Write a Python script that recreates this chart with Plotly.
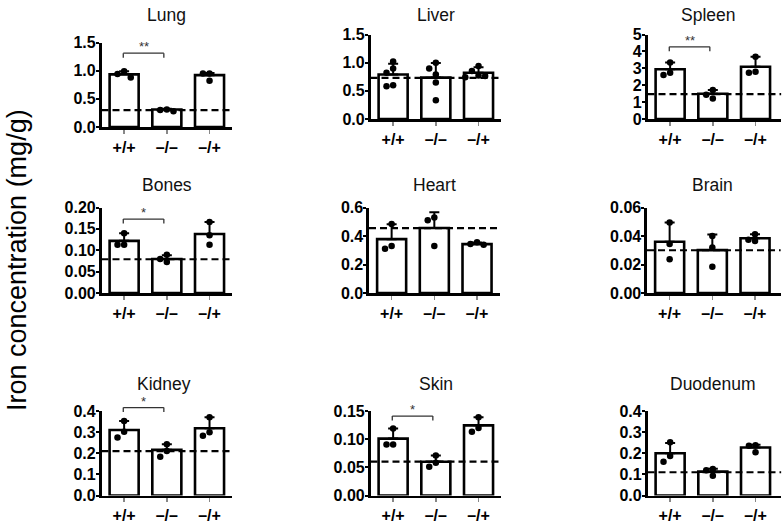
import plotly.graph_objects as go

W, H = 784, 524
GROUPS = ["+/+", "\u2013/\u2013", "\u2013/+"]
ORGANS = ["Lung", "Liver", "Spleen", "Bones", "Heart", "Brain", "Kidney", "Skin", "Duodenum"]

# ---- data ----
lung_mean = [0.935, 0.31, 0.92]
lung_err = [0.055, 0.012, 0.04]
lung_pts = [[0.99, 0.94, 0.88], [0.31, 0.30, 0.28], [0.95, 0.95, 0.82]]

liver_mean = [0.79, 0.735, 0.82]
liver_err = [0.19, 0.26, 0.10]
liver_pts = [[1.02, 0.895, 0.82, 0.60, 0.58], [1.00, 0.895, 0.79, 0.65, 0.335],
             [0.94, 0.85, 0.77, 0.765, 0.74]]

spleen_mean = [2.94, 1.49, 3.09]
spleen_err = [0.41, 0.23, 0.59]
spleen_pts = [[3.35, 2.74, 2.60], [1.72, 1.43, 1.21], [3.68, 2.80, 2.74]]

bones_mean = [0.122, 0.0795, 0.138]
bones_err = [0.018, 0.009, 0.028]
bones_pts = [[0.140, 0.113, 0.113], [0.0895, 0.0795, 0.0725], [0.166, 0.135, 0.113]]

heart_mean = [0.378, 0.456, 0.343]
heart_err = [0.105, 0.11, 0.012]
heart_pts = [[0.484, 0.33, 0.31], [0.53, 0.51, 0.33], [0.357, 0.343, 0.338]]

brain_mean = [0.036, 0.0301, 0.0384]
brain_err = [0.0134, 0.0109, 0.0028]
brain_pts = [[0.0494, 0.0344, 0.0236], [0.040, 0.032, 0.0184], [0.0412, 0.0374, 0.0365]]

kidney_mean = [0.31, 0.216, 0.318]
kidney_err = [0.043, 0.027, 0.052]
kidney_pts = [[0.353, 0.302, 0.274], [0.243, 0.211, 0.184], [0.370, 0.299, 0.283]]

skin_mean = [0.101, 0.060, 0.1245]
skin_err = [0.018, 0.011, 0.0145]
skin_pts = [[0.119, 0.0907, 0.0907], [0.071, 0.058, 0.051], [0.139, 0.120, 0.113]]

duodenum_mean = [0.200, 0.113, 0.227]
duodenum_err = [0.048, 0.014, 0.013]
duodenum_pts = [[0.252, 0.187, 0.160], [0.125, 0.120, 0.093], [0.238, 0.235, 0.205]]

ref_levels = [0.30, 0.73, 1.47, 0.079, 0.455, 0.030, 0.21, 0.06, 0.11]
y_max = [1.5, 1.5, 5, 0.2, 0.6, 0.06, 0.4, 0.15, 0.4]
y_dtick = [0.5, 0.5, 1, 0.05, 0.2, 0.02, 0.1, 0.05, 0.1]
y_fmt = [".1f", ".1f", "d", ".2f", ".1f", ".2f", ".1f", ".2f", ".1f"]

sig_organs = ["Lung", "Spleen", "Bones", "Kidney", "Skin"]
sig_labels = ["**", "**", "*", "*", "*"]
sig_heights = [1.31, 4.27, 0.173, 0.416, 0.141]

y_title = "Iron concentration (mg/g)"

means = [lung_mean, liver_mean, spleen_mean, bones_mean, heart_mean, brain_mean,
         kidney_mean, skin_mean, duodenum_mean]
errs = [lung_err, liver_err, spleen_err, bones_err, heart_err, brain_err,
        kidney_err, skin_err, duodenum_err]
pts = [lung_pts, liver_pts, spleen_pts, bones_pts, heart_pts, brain_pts,
       kidney_pts, skin_pts, duodenum_pts]

# ---- layout geometry (pixels) ----
panel_left = [101.5, 370.5, 647.5, 101.5, 369, 647, 101.5, 370.5, 647.5]
panel_top = [42.5, 34.5, 34.5, 207.5, 207.5, 207.5, 411, 411, 411]
panel_bottom = [127, 119, 119, 293, 293, 293, 495.5, 495.5, 495.5]
title_y = [15, 15, 15, 185, 185, 185, 384, 384, 384]
title_dx = [0, 0, -4, 0, 0, 0, -3, 0, 0]
PXU = 42.7
XR0 = -0.53

FONT = "Liberation Sans, Arial, sans-serif"

fig = go.Figure()


def swarm(vals, ymax, hpx, step=0.155, thr=6.5):
    placed = []
    out = []
    for v in sorted(vals, reverse=True):
        ypx = v / ymax * hpx
        for k in [0, -1, 1, -2, 2, -3, 3]:
            xo = k * step
            ok = True
            for (px, py) in placed:
                dx = (xo - px) * PXU
                dy = ypx - py
                if (dx * dx + dy * dy) ** 0.5 < thr:
                    ok = False
                    break
            if ok:
                break
        placed.append((xo, ypx))
        out.append((xo, v))
    return out


for i, organ in enumerate(ORGANS):
    n = i + 1
    xa = "x" if n == 1 else f"x{n}"
    ya = "y" if n == 1 else f"y{n}"
    col = i % 3
    xr1 = 2.6 if col == 2 else 2.53
    wpx = (xr1 - XR0) * PXU
    hpx = panel_bottom[i] - panel_top[i]
    ymax = y_max[i]

    fig.add_trace(go.Bar(
        x=[0, 1, 2], y=means[i], width=0.68, xaxis=xa, yaxis=ya,
        marker=dict(color="white", line=dict(color="black", width=2.6)),
        error_y=dict(type="data", array=errs[i], arrayminus=[0, 0, 0], symmetric=False,
                     color="black", thickness=2, width=5),
        showlegend=False, hoverinfo="skip"))

    px_, py_ = [], []
    for g in range(3):
        for xo, v in swarm(pts[i][g], ymax, hpx):
            px_.append(g + xo)
            py_.append(v)
    fig.add_trace(go.Scatter(
        x=px_, y=py_, mode="markers", xaxis=xa, yaxis=ya,
        marker=dict(color="black", size=6.5), showlegend=False, hoverinfo="skip"))

    fig.add_shape(type="line", xref=f"{xa} domain", yref=ya, x0=0, x1=1,
                  y0=ref_levels[i], y1=ref_levels[i], layer="above",
                  line=dict(color="black", width=2.2, dash="7px,4px"))

    x0p = panel_left[i] / W
    x1p = min((panel_left[i] + wpx) / W, 0.999)
    y0p = 1 - panel_bottom[i] / H
    y1p = 1 - panel_top[i] / H
    xkey = "xaxis" if n == 1 else f"xaxis{n}"
    ykey = "yaxis" if n == 1 else f"yaxis{n}"
    fig.layout[xkey] = dict(
        domain=[x0p, x1p], range=[XR0, xr1], anchor=ya, automargin=False,
        showline=True, linecolor="black", linewidth=2.6, mirror=False,
        ticks="outside", ticklen=4, tickwidth=1.5, tickcolor="#888",
        tickvals=[0, 1, 2], ticktext=GROUPS,
        tickfont=dict(family=FONT, size=16, color="black", weight="bold"),
        showgrid=False, zeroline=False, fixedrange=True)
    fig.layout[ykey] = dict(
        domain=[y0p, y1p], range=[0, ymax], anchor=xa, automargin=False,
        showline=True, linecolor="black", linewidth=2.6,
        ticks="outside", ticklen=3, tickwidth=2, tickcolor="black",
        ticklabelstandoff=-3,
        tick0=0, dtick=y_dtick[i], tickformat=y_fmt[i],
        tickfont=dict(family=FONT, size=16, color="black", weight="bold"),
        showgrid=False, zeroline=False, fixedrange=True)

    fig.add_annotation(text=organ, xref=xa, x=1, yref="paper", y=1 - title_y[i] / H,
                       xshift=title_dx[i],
                       xanchor="center", yanchor="middle", showarrow=False,
                       font=dict(family=FONT, size=17.5, color="#111"))

    if organ in sig_organs:
        k = sig_organs.index(organ)
        yb = sig_heights[k] / ymax
        drop = 4.5 / hpx
        fa = (-0.02 - XR0) / (xr1 - XR0)
        fb = (0.93 - XR0) / (xr1 - XR0)
        for (ax0, ay0, ax1, ay1) in [(fa, yb, fb, yb), (fa, yb, fa, yb - drop), (fb, yb, fb, yb - drop)]:
            fig.add_shape(type="line", xref=f"{xa} domain", yref=f"{ya} domain",
                          x0=ax0, x1=ax1, y0=ay0, y1=ay1,
                          line=dict(color="#333", width=1.3))
        fig.add_annotation(text=sig_labels[k], xref=f"{xa} domain", yref=f"{ya} domain",
                           x=(fa + fb) / 2, y=yb, xanchor="center", yanchor="bottom",
                           yshift=-3, showarrow=False,
                           font=dict(family=FONT, size=13, color="#333"))

fig.add_annotation(text=y_title, xref="paper", yref="paper", x=17 / W, y=1 - 260 / H,
                   xanchor="center", yanchor="middle", textangle=-90, showarrow=False,
                   font=dict(family=FONT, size=27, color="black"))

fig.update_layout(width=W, height=H,
                  margin=dict(l=0, r=0, t=0, b=0, pad=0, autoexpand=False),
                  paper_bgcolor="white", plot_bgcolor="white", bargap=0.3)

fig.write_html("out.html", config={"displayModeBar": False, "staticPlot": True},
               post_script="document.body.style.margin='0px';document.body.style.overflow='hidden';")
